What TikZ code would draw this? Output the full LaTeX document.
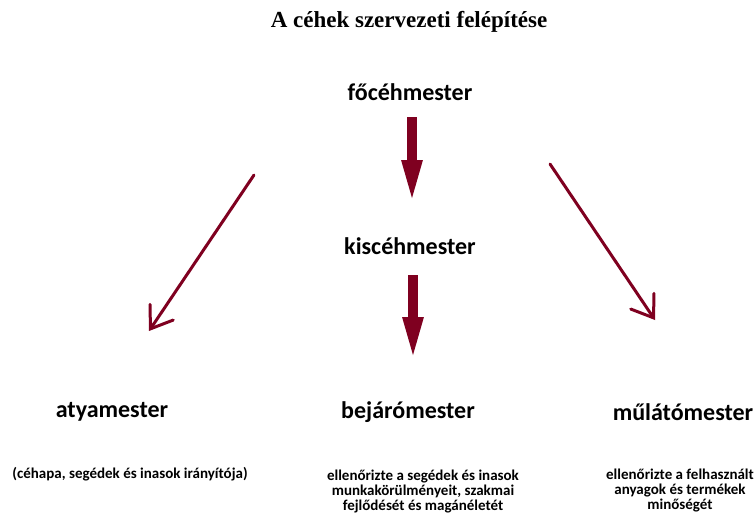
\documentclass[tikz,border=0pt]{standalone}
\usepackage{fontspec}
\setmainfont{Carlito}
\newfontfamily\titlefont{Liberation Serif}
\usetikzlibrary{arrows.meta}
\definecolor{arrowred}{HTML}{7F0020}
\begin{document}
\begin{tikzpicture}[x=1pt,y=-1pt,
  title/.style={font=\titlefont\bfseries\fontsize{23}{27}\selectfont},
  rank/.style={font=\bfseries\fontsize{24}{28}\selectfont, inner sep=0pt},
  desc/.style={font=\bfseries\fontsize{15}{15}\selectfont, align=center, inner sep=0pt},
  thickarrow/.style={draw=arrowred, fill=arrowred, line width=10pt, -{Triangle[width=18pt,length=46pt]}},
  thinarrow/.style={draw=arrowred, line width=3pt, line cap=round, -{Straight Barb[length=20pt,width=28pt,line cap=round]}}]
\useasboundingbox[fill=white] (0,0) rectangle (756,517);
\node[title] (t) at (409,22) {A céhek szervezeti felépítése};
\node[rank] (fo) at (410,92) {főcéhmester};
\node[rank] (kis) at (410,246) {kiscéhmester};
\node[rank] (atya) at (112,412) {atyamester};
\node[rank] (bej) at (408,412) {bejárómester};
\node[rank] (mul) at (683,412) {műlátómester};
\node[desc] (d1) at (130,474) {(céhapa, segédek és inasok irányítója)};
\node[desc] (d2) at (423,492) {ellenőrizte a segédek és inasok\\munkakörülményeit, szakmai\\fejlődését és magánéletét};
\node[desc] (d3) at (680,491) {ellenőrizte a felhasznált\\anyagok és termékek\\minőségét};
\draw[thickarrow, shorten <=25pt, shorten >=40pt] ([xshift=2pt]fo.center) -- ([xshift=2pt]kis.center);
\draw[thickarrow, shorten <=29pt, shorten >=49pt] ([xshift=3pt]kis.center) -- ([xshift=5pt]bej.center);
\coordinate (la1) at (254,175);
\coordinate (la2) at (149,331);
\coordinate (ra1) at (550,164);
\coordinate (ra2) at (655,320);
\draw[thinarrow] (la1) -- (la2);
\draw[thinarrow] (ra1) -- (ra2);
\end{tikzpicture}
\end{document}
